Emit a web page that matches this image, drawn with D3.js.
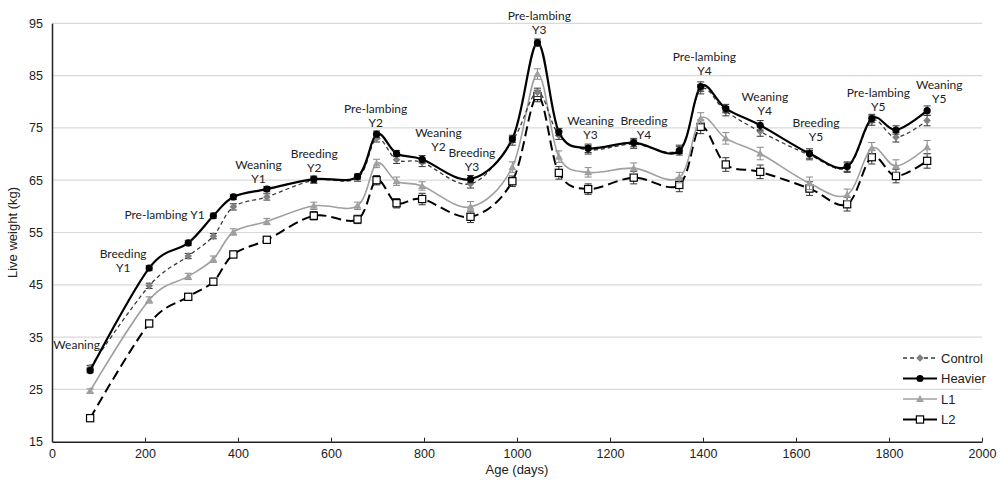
<!DOCTYPE html>
<html>
<head>
<meta charset="utf-8">
<script src="https://cdn.jsdelivr.net/npm/d3@7"></script>
<style>
  body { margin: 0; background: #fff; overflow: hidden; }
  svg { display: block; }
</style>
</head>
<body>
<svg id="chart" width="1000" height="480"></svg>
<script>
// age at each weighing (days)
const days = [82, 209, 293, 347, 390, 462, 563, 657, 698, 741, 796, 900, 990,
  1044, 1090, 1153, 1251, 1349, 1395, 1449, 1523, 1629, 1710, 1763, 1815, 1882];

// live weight (kg) per group
const control = [29.2, 44.8, 50.5, 54.3, 59.9, 61.8, 65.0, 65.4, 73.0, 68.9, 68.4, 64.3, 72.5,
  81.8, 73.6, 70.8, 71.9, 70.9, 82.4, 78.2, 74.3, 69.8, 67.4, 76.4, 73.2, 76.4];
const heavier = [28.6, 48.2, 53.0, 58.2, 61.8, 63.3, 65.2, 65.7, 73.8, 70.1, 69.0, 65.2, 72.9,
  91.3, 74.2, 71.1, 72.2, 70.6, 82.9, 78.7, 75.5, 70.1, 67.6, 76.8, 74.6, 78.3];
const l1 = [24.7, 42.1, 46.6, 49.9, 55.1, 57.1, 60.1, 60.1, 68.2, 64.8, 63.9, 59.9, 67.5,
  85.3, 69.5, 66.5, 67.3, 65.5, 76.8, 73.0, 70.1, 64.4, 62.2, 71.1, 67.7, 71.3];
const l2 = [19.5, 37.6, 42.7, 45.6, 50.8, 53.6, 58.2, 57.5, 65.0, 60.6, 61.4, 58.0, 64.8,
  81.1, 66.4, 63.3, 65.5, 64.1, 75.2, 68.0, 66.6, 63.4, 60.4, 69.4, 65.8, 68.7];

// standard errors (kg)
const controlErr = [0.4, 0.5, 0.5, 0.5, 0.6, 0.6, 0.6, 0.6, 0.7, 0.7, 0.8, 0.8, 0.8,
  0.8, 0.8, 0.8, 0.8, 0.8, 0.9, 0.9, 0.9, 0.9, 0.9, 0.9, 0.9, 1.0];
const heavierErr = [0.4, 0.5, 0.5, 0.5, 0.5, 0.5, 0.6, 0.5, 0.6, 0.6, 0.7, 0.7, 0.7,
  0.7, 0.7, 0.8, 0.8, 0.8, 0.9, 0.8, 0.9, 0.9, 0.9, 0.8, 0.8, 0.9];
const l1Err = [0.4, 0.6, 0.6, 0.6, 0.6, 0.6, 0.7, 0.7, 0.8, 0.8, 0.8, 1.0, 1.0,
  1.0, 1.1, 0.9, 1.0, 1.0, 1.1, 1.1, 1.2, 1.2, 1.1, 1.1, 1.2, 1.3];
const l2Err = [0.4, 0.6, 0.6, 0.6, 0.6, 0.6, 0.8, 0.8, 0.9, 0.9, 1.1, 1.1, 1.0,
  1.1, 1.2, 1.0, 1.2, 1.3, 1.3, 1.3, 1.3, 1.3, 1.3, 1.3, 1.3, 1.4];

const xTicks = [0, 200, 400, 600, 800, 1000, 1200, 1400, 1600, 1800, 2000];
const yTicks = [15, 25, 35, 45, 55, 65, 75, 85, 95];

// physiological stage annotations: [first line, second line, day, kg]
const notes = [
  ['Weaning', '', 53, 33.5],
  ['Breeding', 'Y1', 153, 50.9],
  ['Pre-lambing Y1', '', 242, 58.3],
  ['Weaning', 'Y1', 444, 67.9],
  ['Breeding', 'Y2', 564, 70.1],
  ['Pre-lambing', 'Y2', 696, 78.6],
  ['Weaning', 'Y2', 831, 74.1],
  ['Breeding', 'Y3', 903, 70.2],
  ['Pre-lambing', 'Y3', 1048, 96.4],
  ['Weaning', 'Y3', 1158, 76.3],
  ['Breeding', 'Y4', 1273, 76.3],
  ['Pre-lambing', 'Y4', 1403, 88.6],
  ['Weaning', 'Y4', 1533, 80.9],
  ['Breeding', 'Y5', 1643, 76.0],
  ['Pre-lambing', 'Y5', 1777, 81.7],
  ['Weaning', 'Y5', 1908, 83.2]
];

const series = [
  { name: 'L2', values: l2, err: l2Err, line: '#000', width: 2, dash: '10 5', mark: 'square', fill: '#fff', stroke: '#000' },
  { name: 'L1', values: l1, err: l1Err, line: '#a0a0a0', width: 1.6, dash: null, mark: 'triangle', fill: '#a0a0a0', stroke: '#a0a0a0' },
  { name: 'Control', values: control, err: controlErr, line: '#3a3a3a', width: 1.3, dash: '4 3', mark: 'diamond', fill: '#808080', stroke: '#808080' },
  { name: 'Heavier', values: heavier, err: heavierErr, line: '#000', width: 2.2, dash: null, mark: 'circle', fill: '#000', stroke: '#000' }
];
const legendOrder = ['Control', 'Heavier', 'L1', 'L2'];

const sansFont = '"Liberation Sans", Arial, sans-serif';
const noteFont = 'Lato, "Open Sans", sans-serif';

const svg = d3.select('#chart');
const margins = { left: 52, top: 23.3, right: 18, bottom: 38.3 };
const width = 1000, height = 480;
const innerWidth = width - margins.left - margins.right;
const innerHeight = height - margins.top - margins.bottom;

const x = d3.scaleLinear().domain([0, 2000]).range([margins.left, margins.left + innerWidth]);
const y = d3.scaleLinear().domain([15, 95]).range([margins.top + innerHeight, margins.top]);

// gridlines
svg.append('g')
  .selectAll('line')
  .data(yTicks.filter(d => d > 15))
  .join('line')
  .attr('x1', x(0)).attr('x2', x(2000))
  .attr('y1', d => y(d)).attr('y2', d => y(d))
  .attr('stroke', '#d9d9d9').attr('stroke-width', 1.2);

// axes
const xAxis = d3.axisBottom(x)
  .tickValues(xTicks)
  .tickFormat(d3.format('d'))
  .tickSizeInner(-4)
  .tickSizeOuter(0)
  .tickPadding(7);
svg.append('g')
  .attr('transform', `translate(0, ${y(15)})`)
  .call(xAxis)
  .attr('font-family', sansFont)
  .attr('font-size', 12.5)
  .call(g => g.select('.domain').attr('stroke', '#222').attr('stroke-width', 1.5))
  .call(g => g.selectAll('.tick line').attr('stroke', '#222'))
  .call(g => g.selectAll('.tick text').attr('fill', '#222'));

const yAxis = d3.axisLeft(y).tickValues(yTicks).tickSize(0).tickPadding(9);
svg.append('g')
  .attr('transform', `translate(${x(0)}, 0)`)
  .call(yAxis)
  .attr('font-family', sansFont)
  .attr('font-size', 12.5)
  .call(g => g.select('.domain').attr('stroke', '#222').attr('stroke-width', 1.5))
  .call(g => g.selectAll('.tick text').attr('fill', '#222'));

svg.append('text')
  .attr('font-family', sansFont).attr('font-size', 13).attr('fill', '#222')
  .attr('x', x(1000)).attr('y', 474)
  .attr('text-anchor', 'middle')
  .text('Age (days)');

svg.append('text')
  .attr('font-family', sansFont).attr('font-size', 13).attr('fill', '#222')
  .attr('transform', `translate(17, ${y(55)}) rotate(-90)`)
  .attr('text-anchor', 'middle')
  .text('Live weight (kg)');

// markers
function drawMark(g, s, cx, cy) {
  if (s.mark === 'circle') {
    g.append('circle').attr('cx', cx).attr('cy', cy).attr('r', 3.6).attr('fill', s.fill);
  } else if (s.mark === 'square') {
    g.append('rect').attr('x', cx - 3.6).attr('y', cy - 3.6).attr('width', 7.2).attr('height', 7.2)
      .attr('fill', s.fill).attr('stroke', s.stroke).attr('stroke-width', 1.2);
  } else if (s.mark === 'triangle') {
    g.append('path').attr('d', `M${cx},${cy - 4}L${cx + 4},${cy + 3}L${cx - 4},${cy + 3}Z`).attr('fill', s.fill);
  } else {
    g.append('path').attr('d', `M${cx},${cy - 3.8}L${cx + 3.8},${cy}L${cx},${cy + 3.8}L${cx - 3.8},${cy}Z`).attr('fill', s.fill);
  }
}

const line = d3.line()
  .x(d => x(d.day))
  .y(d => y(d.kg))
  .curve(d3.curveCardinal.tension(0));

series.forEach(s => {
  const pts = days.map((d, i) => ({ day: d, kg: s.values[i], err: s.err[i] }));
  const g = svg.append('g').attr('class', 'series');

  g.append('path')
    .datum(pts)
    .attr('d', line)
    .attr('fill', 'none')
    .attr('stroke', s.line)
    .attr('stroke-width', s.width)
    .attr('stroke-dasharray', s.dash);

  const eb = g.append('g').attr('stroke', s.mark === 'triangle' ? '#888' : '#333').attr('stroke-width', 1);
  pts.forEach(p => {
    const top = y(p.kg + p.err), bot = y(p.kg - p.err), cx = x(p.day);
    eb.append('line').attr('x1', cx).attr('x2', cx).attr('y1', top).attr('y2', bot);
    eb.append('line').attr('x1', cx - 3.5).attr('x2', cx + 3.5).attr('y1', top).attr('y2', top);
    eb.append('line').attr('x1', cx - 3.5).attr('x2', cx + 3.5).attr('y1', bot).attr('y2', bot);
  });

  pts.forEach(p => drawMark(g, s, x(p.day), y(p.kg)));
});

// annotations, one text element per line
const noteG = svg.append('g');
notes.forEach(([a, b, day, kg]) => {
  [a, b].forEach((txt, k) => {
    if (!txt) return;
    noteG.append('text')
      .attr('font-family', noteFont).attr('font-size', 12).attr('fill', '#222')
      .attr('text-anchor', 'middle')
      .attr('x', x(day))
      .attr('y', y(kg) + k * 14 + 4.2)
      .text(txt);
  });
});

// legend
const legend = svg.append('g').attr('transform', 'translate(903, 358)');
legendOrder.forEach((name, i) => {
  const s = series.find(d => d.name === name);
  const row = legend.append('g').attr('transform', `translate(0, ${i * 20.5})`);
  row.append('line')
    .attr('x1', 0).attr('x2', 34).attr('y1', 0).attr('y2', 0)
    .attr('stroke', s.line).attr('stroke-width', s.width)
    .attr('stroke-dasharray', s.dash === '4 3' ? '4 3' : null);
  drawMark(row, s, 17, 0);
  row.append('text')
    .attr('font-family', sansFont).attr('font-size', 13).attr('fill', '#222')
    .attr('x', 38).attr('y', 4.5)
    .text(name);
});
</script>
</body>
</html>
